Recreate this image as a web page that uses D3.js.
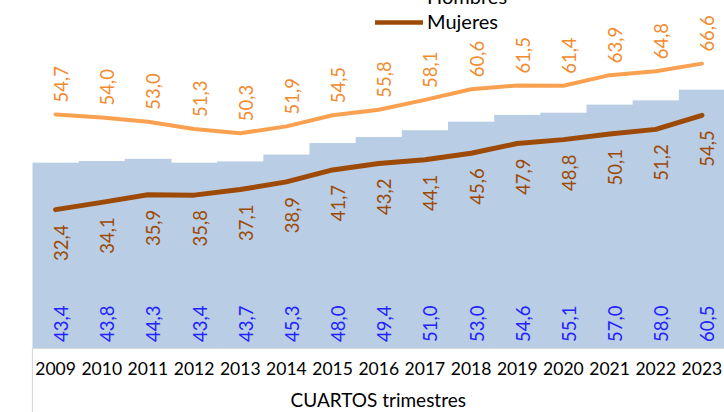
<!DOCTYPE html>
<html><head><meta charset="utf-8">
<script src="https://cdn.jsdelivr.net/npm/d3@7"></script>
<style>body{margin:0;background:#fff}svg{display:block}</style>
</head><body>
<script>
const years = ["2009","2010","2011","2012","2013","2014","2015","2016","2017","2018","2019","2020","2021","2022","2023"];
const totalValues = [43.4,43.8,44.3,43.4,43.7,45.3,48.0,49.4,51.0,53.0,54.6,55.1,57.0,58.0,60.5];
const hombresValues = [54.7,54.0,53.0,51.3,50.3,51.9,54.5,55.8,58.1,60.6,61.5,61.4,63.9,64.8,66.6];
const mujeresValues = [32.4,34.1,35.9,35.8,37.1,38.9,41.7,43.2,44.1,45.6,47.9,48.8,50.1,51.2,54.5];
const xTitle = "CUARTOS trimestres";
const legendNames = ["Hombres","Mujeres"];

const W=724,H=412;
const font="Lato, 'Open Sans', sans-serif";
const svg=d3.select("body").append("svg").attr("width",W).attr("height",H);
const x=d3.scaleBand().domain(years).range([32.5,725]).padding(0);
const y=d3.scaleLinear().domain([0,80]).range([348,6.4]);
const fmt=v=>d3.format(".1f")(v).replace(".",",");
const cx=d=>x(d)+x.bandwidth()/2;

// bars (total)
svg.append("g").selectAll("rect").data(years).join("rect")
  .attr("x",d=>x(d)).attr("width",x.bandwidth()+0.6)
  .attr("y",(d,i)=>y(totalValues[i])).attr("height",(d,i)=>y(0)-y(totalValues[i]))
  .attr("fill","#b9cde5");

// category axis box
svg.append("path").attr("d",`M32.5,${H}V348.5H${W}`).attr("fill","none").attr("stroke","#d9d9d9").attr("stroke-width",1.2);
const xAxis=d3.axisBottom(x).tickSize(0).tickPadding(0);
const gx=svg.append("g").attr("transform","translate(0,348)").call(xAxis);
gx.select(".domain").remove();
gx.selectAll("text").attr("font-family",font).attr("font-size",17.5).attr("fill","#000").attr("dy",0).attr("y",27);
svg.append("text").attr("x",(32.5+W)/2).attr("y",407).attr("text-anchor","middle")
  .attr("font-family",font).attr("font-size",19).attr("fill","#000").text(xTitle);

// lines
const line=vals=>d3.line().x((d,i)=>cx(years[i])).y(d=>y(d))(vals);
svg.append("path").attr("d",line(hombresValues)).attr("fill","none").attr("stroke","#f9a150").attr("stroke-width",4).attr("stroke-linejoin","round").attr("stroke-linecap","round");
svg.append("path").attr("d",line(mujeresValues)).attr("fill","none").attr("stroke","#9c4a06").attr("stroke-width",5).attr("stroke-linejoin","round").attr("stroke-linecap","round");

// labels
function labels(vals,color,anchor,posFn){
  svg.append("g").selectAll("text").data(vals).join("text")
    .attr("transform",(d,i)=>`translate(${cx(years[i])+6},${posFn(d)}) rotate(-90)`)
    .attr("text-anchor",anchor).attr("dy","0.35em")
    .attr("font-family",font).attr("font-size",18.5).attr("fill",color).text(fmt);
}
labels(totalValues,"#2222ff","start",d=>342);
labels(hombresValues,"#f28a2e","start",d=>y(d)-12);
labels(mujeresValues,"#9c4a06","end",d=>y(d)+15);

// legend
const leg=svg.append("g");
const legColors=["#f9a150","#9c4a06"];
const legY=[-3,22.5];
legendNames.forEach((n,i)=>{
  leg.append("line").attr("x1",375).attr("x2",423).attr("y1",legY[i]).attr("y2",legY[i])
    .attr("stroke",legColors[i]).attr("stroke-width",4.5);
  leg.append("text").attr("x",427).attr("y",legY[i]+6.5).attr("font-family",font).attr("font-size",20)
    .attr("fill","#000").text(n);
});
</script>
</body></html>
